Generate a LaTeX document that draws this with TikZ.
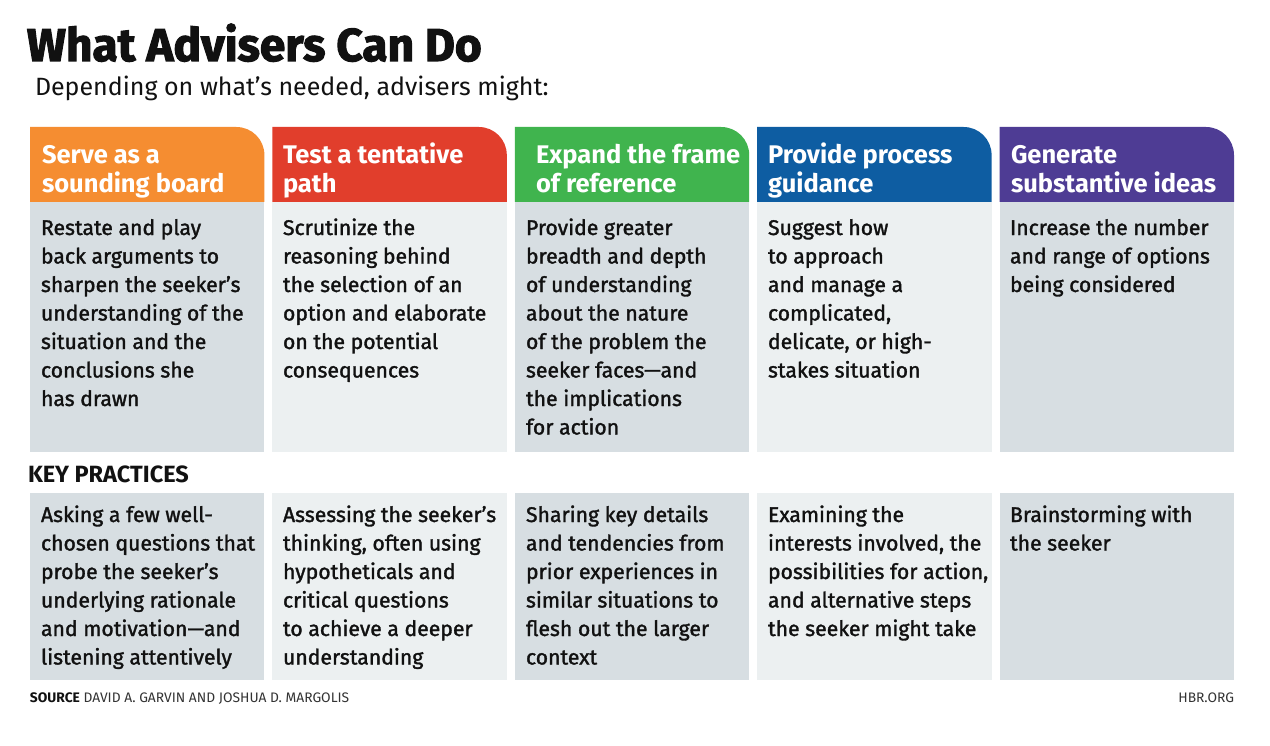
\documentclass[tikz,border=0pt]{standalone}
\usepackage{fontspec}
\setmainfont{Fira Sans}
\newfontfamily\fheavy{Fira Sans}[UprightFont={* Bold},FakeBold=2.4]
\newfontfamily\fsemi{Fira Sans}[UprightFont={* Bold}]
\newfontfamily\fmed{Fira Sans}[FakeBold=1.5]
\definecolor{orangeC}{HTML}{F58D31}
\definecolor{redC}{HTML}{E13E2C}
\definecolor{greenC}{HTML}{40B44E}
\definecolor{blueC}{HTML}{0E5DA2}
\definecolor{purpleC}{HTML}{4E3C94}
\definecolor{darkC}{HTML}{D7DEE2}
\definecolor{lightC}{HTML}{ECF0F1}
\definecolor{inkC}{HTML}{111111}
\definecolor{footC}{HTML}{333333}
\begin{document}
\begin{tikzpicture}[x=1pt,y=-1pt,
  every node/.style={inner sep=0pt,outer sep=0pt},
  titletxt/.style={anchor=base west,text=inkC,font=\fheavy\fontsize{46}{46}\selectfont},
  subtxt/.style={anchor=base west,text=inkC,font=\fontsize{25}{25}\selectfont},
  headtxt/.style={anchor=base west,align=left,text=white,font=\fsemi\fontsize{25.5}{28.5}\selectfont},
  bodytxt/.style={anchor=base west,align=left,text=inkC,font=\fmed\fontsize{21.2}{28.5}\selectfont},
  keytxt/.style={anchor=base west,text=inkC,font=\bfseries\fontsize{23.5}{23.5}\selectfont},
  foottxt/.style={text=footC,font=\fontsize{13.8}{13.8}\selectfont}]
\useasboundingbox[fill=white] (0,0) rectangle (1270,746);
\foreach \i/\c/\b in {0/orangeC/darkC,1/redC/lightC,2/greenC/darkC,3/blueC/lightC,4/purpleC/darkC}{
  \pgfmathsetmacro\L{30+242.4*\i}
  \pgfmathsetmacro\R{\L+234.4}
  \pgfmathsetmacro\A{\R-28}
  \fill[\c] (\L,202) -- (\L,127) -- (\A,127) arc[start angle=-90,end angle=0,radius=28] -- (\R,202) -- cycle;
  \fill[\b] (\L,202) rectangle (\R,452);
  \fill[\b] (\L,493) rectangle (\R,680);
}
\node[titletxt] (title) at (27,61) {What Advisers Can Do};
\node[subtxt] (sub) at (35,96) {Depending on what’s needed, advisers might:};
% headers (anchored at the baseline of the last line)
\node[headtxt] (h1) at (42,192.5) {Serve as a\\sounding board};
\node[headtxt] (h2) at (283,192.5) {Test a tentative\\path};
\node[headtxt] (h3) at (536,192.5) {Expand the frame\\of reference};
\node[headtxt] (h4) at (768,192.5) {Provide process\\guidance};
\node[headtxt] (h5) at (1011,192.5) {Generate\\substantive ideas};
% bodies (first baseline 235, step 28.5)
\node[bodytxt] (b1) at (41,406) {Restate and play\\back arguments to\\sharpen the seeker’s\\understanding of the\\situation and the\\conclusions she\\has drawn};
\node[bodytxt] (b2) at (283,377.5) {Scrutinize the\\reasoning behind\\the selection of an\\option and elaborate\\on the potential\\consequences};
\node[bodytxt] (b3) at (526,434.5) {Provide greater\\breadth and depth\\of understanding\\about the nature\\of the problem the\\seeker faces—and\\the implications\\for action};
\node[bodytxt] (b4) at (768,377.5) {Suggest how\\to approach\\and manage a\\complicated,\\delicate, or high-\\stakes situation};
\node[bodytxt] (b5) at (1010,292) {Increase the number\\and range of options\\being considered};
% key practices (first baseline 522)
\node[keytxt] (key) at (28,482) {KEY PRACTICES};
\node[bodytxt] (k1) at (41,664.5) {Asking a few well-\\chosen questions that\\probe the seeker’s\\underlying rationale\\and motivation—and\\listening attentively};
\node[bodytxt] (k2) at (283,664.5) {Assessing the seeker’s\\thinking, often using\\hypotheticals and\\critical questions\\to achieve a deeper\\understanding};
\node[bodytxt] (k3) at (526,664.5) {Sharing key details\\and tendencies from\\prior experiences in\\similar situations to\\flesh out the larger\\context};
\node[bodytxt] (k4) at (768,636) {Examining the\\interests involved, the\\possibilities for action,\\and alternative steps\\the seeker might take};
\node[bodytxt] (k5) at (1010,550.5) {Brainstorming with\\the seeker};
% footer
\node[foottxt,anchor=base west] (src) at (30,702.5) {\textbf{\color{inkC}SOURCE} DAVID A. GARVIN AND JOSHUA D. MARGOLIS};
\node[foottxt,anchor=base east] (hbr) at (1234,702.5) {HBR.ORG};
\end{tikzpicture}
\end{document}
